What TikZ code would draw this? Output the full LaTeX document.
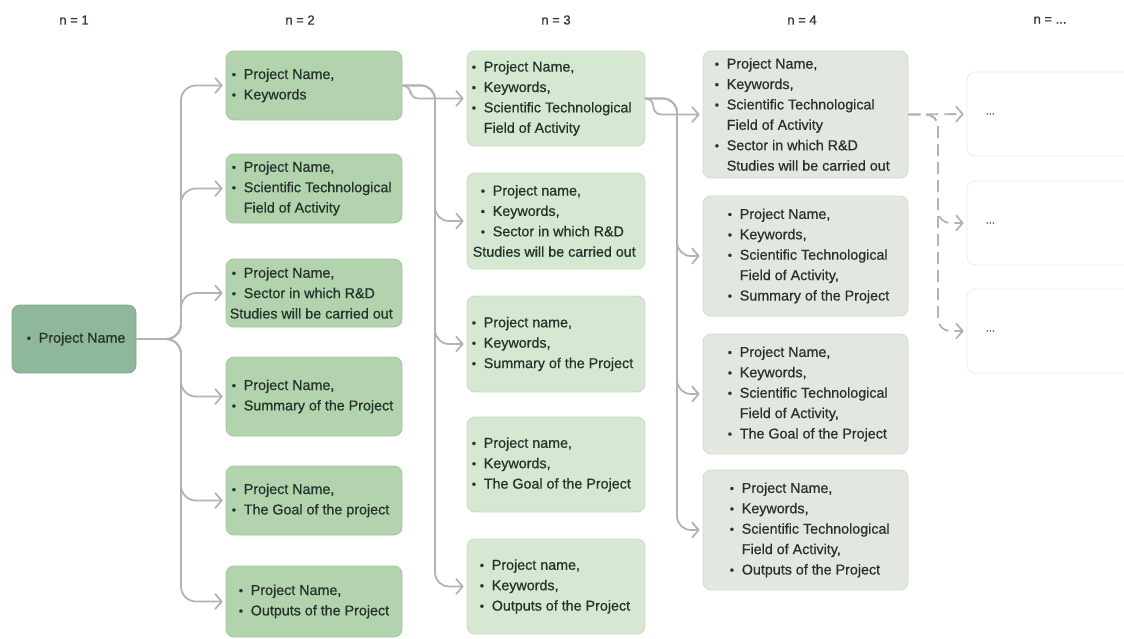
\documentclass[tikz,border=0pt]{standalone}
\usepackage{fontspec}
\setmainfont{Liberation Sans}[FakeBold=0.6]
\usetikzlibrary{arrows.meta}
\definecolor{txtc}{HTML}{26332A}
\definecolor{f1}{HTML}{8FB799}\definecolor{d1c}{HTML}{7EA689}
\definecolor{f2}{HTML}{B2D3AE}\definecolor{d2c}{HTML}{A2C79E}
\definecolor{f3}{HTML}{D6E8D2}\definecolor{d3c}{HTML}{C6DDC1}
\definecolor{f4}{HTML}{E2E8E0}\definecolor{d4c}{HTML}{D0DBCD}
\definecolor{d5c}{HTML}{EBEBEB}
\definecolor{lnc}{HTML}{B3B3B3}
\newcommand{\itm}{\makebox[12pt][l]{\raisebox{0.4pt}{\fontsize{12}{12}\selectfont\textbullet}}}
\newcommand{\ind}{\hspace*{12pt}}
\tikzset{
  boxbase/.style={rectangle, rounded corners=8pt, line width=0.8pt, inner sep=0pt},
  boxa/.style={boxbase, fill=f1, draw=d1c},
  boxb/.style={boxbase, fill=f2, draw=d2c},
  boxc/.style={boxbase, fill=f3, draw=d3c},
  boxd/.style={boxbase, fill=f4, draw=d4c},
  boxe/.style={boxbase, fill=white, draw=d5c},
  txt/.style={anchor=west, align=left, inner sep=0pt, text=txtc, font=\fontsize{14.3}{20.4}\selectfont},
  hdr/.style={text=black!80, font=\fontsize{13}{14}\selectfont},
  conn/.style={draw=lnc, line width=1.8pt, rounded corners=15pt, shorten >=3pt, -{Straight Barb[length=6.5pt,width=15pt,round]}},
  dconn/.style={conn, dash pattern=on 12pt off 6pt},
}
\begin{document}
\begin{tikzpicture}[x=1pt,y=-1pt]
\useasboundingbox (0,0) rectangle (1124,638);
\clip (0,0) rectangle (1124,638);
% headers
\node[hdr] (h1) at (74,20) {n = 1};
\node[hdr] (h2) at (300,20) {n = 2};
\node[hdr] (h3) at (556,20) {n = 3};
\node[hdr] (h4) at (802,20) {n = 4};
\node[hdr] (h5) at (1050,20) {n = ...};
% column 1
\node[boxa, minimum width=124pt, minimum height=68pt] (a) at (74,339) {};
\node[txt] (at) at ([xshift=15pt]a.west) {\itm Project Name};
% column 2
\node[boxb, minimum width=176pt, minimum height=69pt] (b1) at (314,85.5) {};
\node[boxb, minimum width=176pt, minimum height=69pt] (b2) at (314,188.5) {};
\node[boxb, minimum width=176pt, minimum height=68pt] (b3) at (314,293) {};
\node[boxb, minimum width=176pt, minimum height=79pt] (b4) at (314,396.5) {};
\node[boxb, minimum width=176pt, minimum height=69pt] (b5) at (314,500.5) {};
\node[boxb, minimum width=176pt, minimum height=71pt] (b6) at (314,601.5) {};
\node[txt] (b1t) at ([xshift=6pt]b1.west) {\itm Project Name,\\ \itm Keywords};
\node[txt] (b2t) at ([xshift=6pt]b2.west) {\itm Project Name,\\ \itm Scientific Technological\\ \ind Field of Activity};
\node[txt] (b3t) at ([xshift=4pt]b3.west) {\hspace*{2pt}\itm Project Name,\\ \hspace*{2pt}\itm Sector in which R\&D\\ Studies will be carried out};
\node[txt] (b4t) at ([xshift=6pt]b4.west) {\itm Project Name,\\ \itm Summary of the Project};
\node[txt] (b5t) at ([xshift=6pt]b5.west) {\itm Project Name,\\ \itm The Goal of the project};
\node[txt] (b6t) at ([xshift=13pt]b6.west) {\itm Project Name,\\ \itm Outputs of the Project};
% column 3
\node[boxc, minimum width=178pt, minimum height=95pt] (c1) at (556,98.5) {};
\node[boxc, minimum width=178pt, minimum height=96pt] (c2) at (556,221) {};
\node[boxc, minimum width=178pt, minimum height=96pt] (c3) at (556,344) {};
\node[boxc, minimum width=178pt, minimum height=95pt] (c4) at (556,464.5) {};
\node[boxc, minimum width=178pt, minimum height=95pt] (c5) at (556,586.5) {};
\node[txt] (c1t) at ([xshift=5pt]c1.west) {\itm Project Name,\\ \itm Keywords,\\ \itm Scientific Technological\\ \ind Field of Activity};
\node[txt] (c2t) at ([xshift=6pt]c2.west) {\hspace*{8pt}\itm Project name,\\ \hspace*{8pt}\itm Keywords,\\ \hspace*{8pt}\itm Sector in which R\&D\\ Studies will be carried out};
\node[txt] (c3t) at ([xshift=5pt]c3.west) {\itm Project name,\\ \itm Keywords,\\ \itm Summary of the Project};
\node[txt] (c4t) at ([xshift=5pt]c4.west) {\itm Project name,\\ \itm Keywords,\\ \itm The Goal of the Project};
\node[txt] (c5t) at ([xshift=13pt]c5.west) {\itm Project name,\\ \itm Keywords,\\ \itm Outputs of the Project};
% column 4
\node[boxd, minimum width=205pt, minimum height=127pt] (d1) at (805.5,114.5) {};
\node[boxd, minimum width=205pt, minimum height=120pt] (d2) at (805.5,256) {};
\node[boxd, minimum width=205pt, minimum height=120pt] (d3) at (805.5,394) {};
\node[boxd, minimum width=205pt, minimum height=120pt] (d4) at (805.5,530) {};
\node[txt] (d1t) at ([xshift=12pt]d1.west) {\itm Project Name,\\ \itm Keywords,\\ \itm Scientific Technological\\ \ind Field of Activity\\ \itm Sector in which R\&D\\ \ind Studies will be carried out};
\node[txt] (d2t) at ([xshift=25pt]d2.west) {\itm Project Name,\\ \itm Keywords,\\ \itm Scientific Technological\\ \ind Field of Activity,\\ \itm Summary of the Project};
\node[txt] (d3t) at ([xshift=25pt]d3.west) {\itm Project Name,\\ \itm Keywords,\\ \itm Scientific Technological\\ \ind Field of Activity,\\ \itm The Goal of the Project};
\node[txt] (d4t) at ([xshift=27pt]d4.west) {\itm Project Name,\\ \itm Keywords,\\ \itm Scientific Technological\\ \ind Field of Activity,\\ \itm Outputs of the Project};
% column 5
\node[boxe, minimum width=190pt, minimum height=84pt] (e1) at (1062,114) {};
\node[boxe, minimum width=190pt, minimum height=84pt] (e2) at (1062,223) {};
\node[boxe, minimum width=190pt, minimum height=84pt] (e3) at (1062,331) {};
\node[txt, text=black!70, font=\fontsize{11}{12}\selectfont] (e1t) at ([xshift=19pt]e1.west) {...};
\node[txt, text=black!70, font=\fontsize{11}{12}\selectfont] (e2t) at ([xshift=19pt]e2.west) {...};
\node[txt, text=black!70, font=\fontsize{11}{12}\selectfont] (e3t) at ([xshift=19pt]e3.west) {...};
% trunks
\coordinate (t1) at (181,0);
\coordinate (t2) at (435,0);
\coordinate (t3) at (677,0);
\coordinate (t4) at (938,0);
% connectors n=1 -> n=2
\foreach \n in {b1,b2,b3,b4,b5,b6}
  \draw[conn] (a.east) -- (t1 |- a.east) -- (t1 |- \n.west) -- (\n.west);
% n=2 -> n=3
\draw[conn, rounded corners=8pt] (b1.east) -- ++(8,0) |- (c1.west);
\foreach \n in {c2,c3,c5}
  \draw[conn, rounded corners=14pt] (b1.east) -- (t2 |- b1.east) -- (t2 |- \n.west) -- (\n.west);
% n=3 -> n=4
\draw[conn, rounded corners=8pt] (c1.east) -- ++(8,0) |- (d1.west);
\foreach \n in {d2,d3,d4}
  \draw[conn, rounded corners=14pt] (c1.east) -- (t3 |- c1.east) -- (t3 |- \n.west) -- (\n.west);
% n=4 -> n=...
\draw[dconn] (d1.east) -- (e1.west);
\foreach \n in {e2,e3}
  \draw[dconn, rounded corners=12pt] (d1.east) -- (t4 |- d1.east) -- (t4 |- \n.west) -- (\n.west);
\end{tikzpicture}
\end{document}
